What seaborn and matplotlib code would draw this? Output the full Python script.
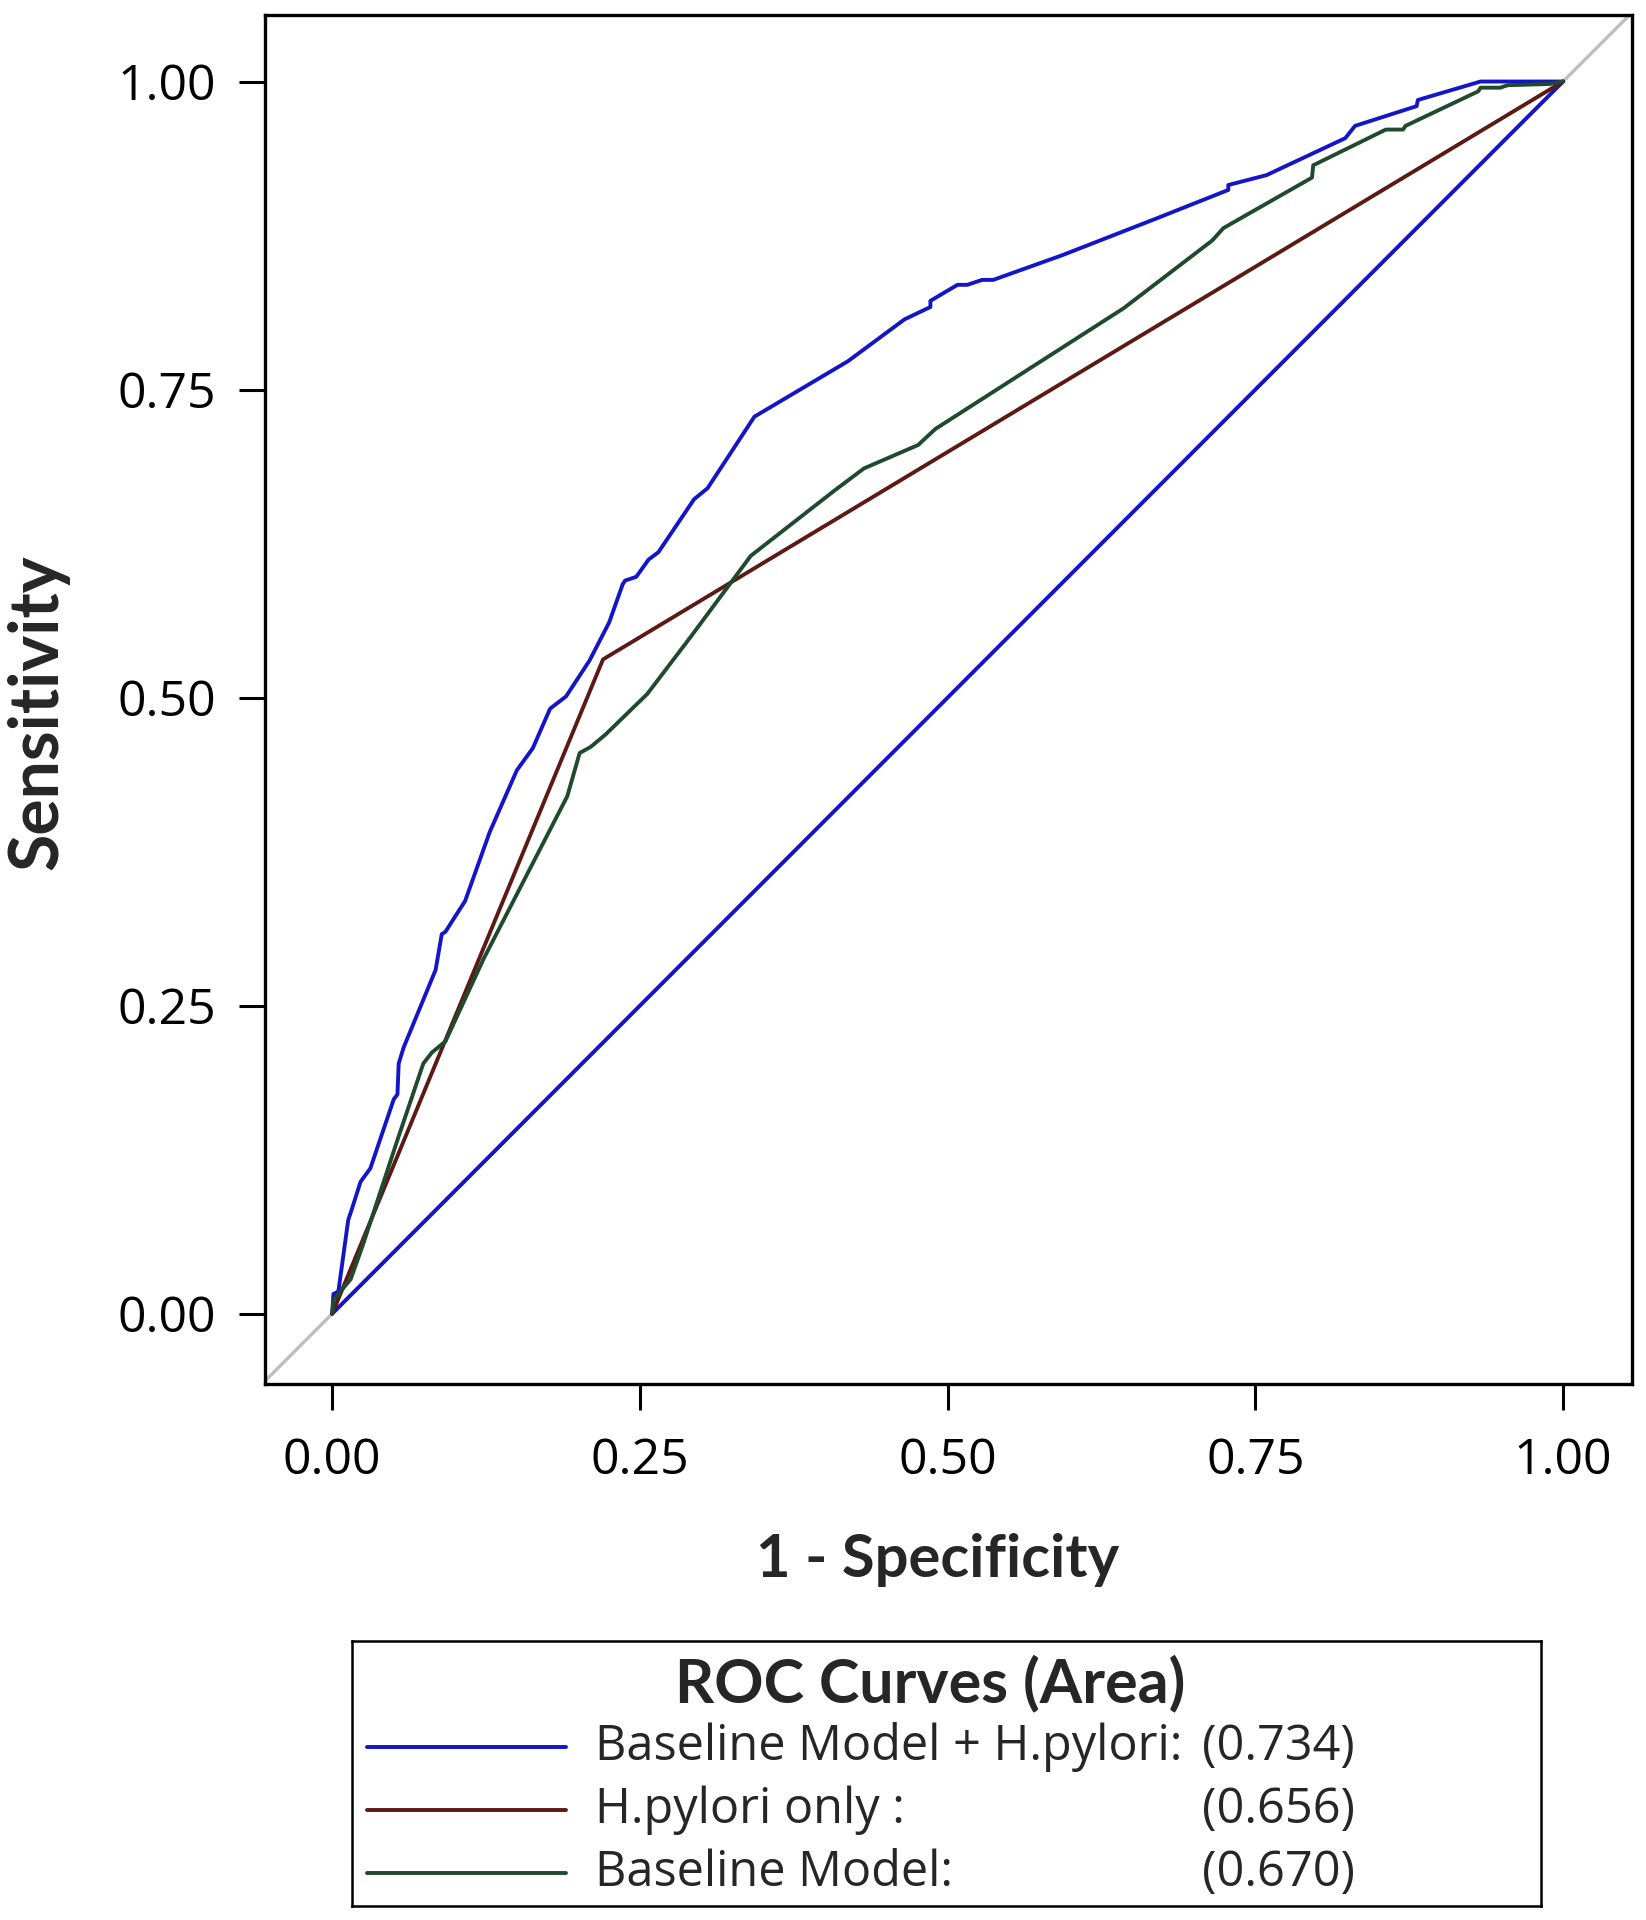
import matplotlib
matplotlib.use("Agg")
import matplotlib.pyplot as plt
import seaborn as sns
import pandas as pd

# ROC points (1 - specificity, sensitivity)
combo_fpr = [0, 0.001, 0.005, 0.013, 0.016, 0.023, 0.031, 0.050, 0.053, 0.054,
             0.058, 0.084, 0.089, 0.092, 0.108, 0.128, 0.150, 0.163, 0.177, 0.190,
             0.209, 0.225, 0.236, 0.238, 0.247, 0.257, 0.265, 0.294, 0.305, 0.343,
             0.419, 0.465, 0.486, 0.486, 0.508, 0.516, 0.528, 0.537, 0.593, 0.670,
             0.728, 0.728, 0.759, 0.823, 0.831, 0.881, 0.882, 0.933, 1.0]
combo_tpr = [0, 0.016, 0.018, 0.076, 0.085, 0.107, 0.118, 0.174, 0.178, 0.203,
             0.216, 0.279, 0.308, 0.310, 0.335, 0.391, 0.441, 0.459, 0.491, 0.501,
             0.530, 0.561, 0.592, 0.595, 0.598, 0.612, 0.618, 0.661, 0.670, 0.728,
             0.773, 0.807, 0.817, 0.822, 0.835, 0.835, 0.839, 0.839, 0.859, 0.889,
             0.912, 0.916, 0.924, 0.954, 0.964, 0.980, 0.985, 1.0, 1.0]

hp_fpr = [0, 0.22, 1.0]
hp_tpr = [0, 0.531, 1.0]

base_fpr = [0, 0.001, 0.005, 0.015, 0.025, 0.053, 0.074, 0.081, 0.092, 0.123,
            0.191, 0.201, 0.210, 0.222, 0.256, 0.291, 0.340, 0.408, 0.432, 0.476,
            0.490, 0.643, 0.715, 0.724, 0.796, 0.797, 0.856, 0.870, 0.872, 0.931,
            0.933, 0.949, 0.955, 0.989, 1.0]
base_tpr = [0, 0.011, 0.016, 0.028, 0.056, 0.141, 0.203, 0.212, 0.221, 0.288,
            0.420, 0.455, 0.460, 0.470, 0.503, 0.549, 0.615, 0.668, 0.686, 0.705,
            0.718, 0.816, 0.871, 0.881, 0.922, 0.932, 0.961, 0.961, 0.964, 0.992,
            0.995, 0.995, 0.997, 0.998, 1.0]

chance_fpr = [0, 1]
chance_tpr = [0, 1]

names = ["Baseline Model + H.pylori:", "H.pylori only :", "Baseline Model:"]
areas = ["(0.734)", "(0.656)", "(0.670)"]
colors = ["#1414C8", "#5C1A16", "#1F4A2E"]
ticks = [0, 0.25, 0.5, 0.75, 1.0]

sns.set_theme(style="ticks")
plt.rcParams['font.family'] = ['Open Sans', 'DejaVu Sans']

fig = plt.figure(figsize=(16.46, 19.20), dpi=100)
ax = fig.add_axes([0.1607, 0.2792, 0.8308, 0.713])

ax.axline((0, 0), slope=1, color="#BEBEBE", lw=2.4, zorder=1)
sns.lineplot(x=chance_fpr, y=chance_tpr, color=colors[0], lw=2.8, ax=ax,
             sort=False, estimator=None)

curves = [(combo_fpr, combo_tpr), (hp_fpr, hp_tpr), (base_fpr, base_tpr)]
for (fx, fy), c in zip(curves, colors):
    d = pd.DataFrame({"fpr": fx, "tpr": fy})
    sns.lineplot(data=d, x="fpr", y="tpr", color=c, lw=2.8, ax=ax,
                 sort=False, estimator=None)

ax.set_xlim(-0.055, 1.056)
ax.set_ylim(-0.057, 1.054)
ax.set_xticks(ticks)
ax.set_yticks(ticks)
ax.set_xticklabels([f"{t:.2f}" for t in ticks])
ax.set_yticklabels([f"{t:.2f}" for t in ticks])
ax.tick_params(axis="both", labelsize=36, length=19, width=2.2, colors="black")
ax.tick_params(axis="x", pad=19)
ax.tick_params(axis="y", pad=16)
for s in ax.spines.values():
    s.set_linewidth(2.4)
    s.set_color("black")

ax.set_xlabel("1 - Specificity", fontsize=43, fontweight="bold", family="Lato",
              va="center")
ax.set_ylabel("Sensitivity", fontsize=49, fontweight="bold", family="Lato",
              va="center")
ax.xaxis.set_label_coords(0.4925, -0.1286)
ax.yaxis.set_label_coords(-0.1656, 0.491)

# legend box drawn as its own small axes
leg = fig.add_axes([0.2139, 0.0073, 0.7224, 0.138])
leg.set_xlim(0, 1)
leg.set_ylim(0, 1)
leg.set_xticks([])
leg.set_yticks([])
for s in leg.spines.values():
    s.set_linewidth(1.8)
    s.set_color("black")
leg.text(0.486, 0.842, "ROC Curves (Area)", fontsize=44, fontweight="bold",
         family="Lato", ha="center", va="center")
rows = [0.60, 0.362, 0.125]
for name, area, c, ry in zip(names, areas, colors, rows):
    leg.plot([0.0126, 0.18], [ry, ry], color=c, lw=2.8)
    leg.text(0.204, ry, name, fontsize=35, ha="left", va="center")
    leg.text(0.8436, ry, area, fontsize=35, ha="right", va="center")

fig.savefig("out.png", dpi=100)
